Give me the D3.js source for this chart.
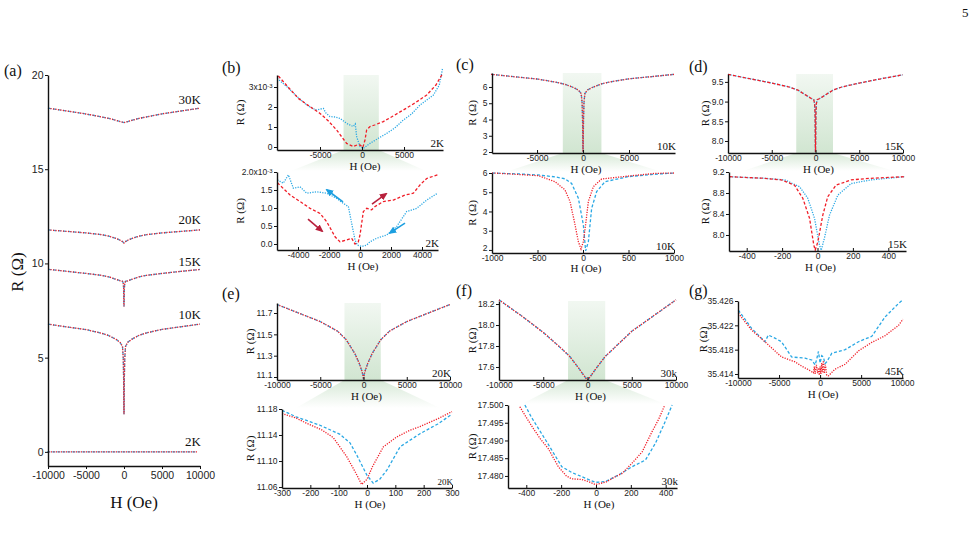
<!DOCTYPE html>
<html>
<head>
<meta charset="utf-8">
<script src="https://cdn.jsdelivr.net/npm/d3@7/dist/d3.min.js"></script>
<style>
  body { margin: 0; background: #fff; }
  svg { display: block; }
  .serif { font-family: "Liberation Serif", "Times New Roman", serif; fill: #111; }
</style>
</head>
<body>
<svg id="fig" width="978" height="539"></svg>
<script>
// ---- data (R in ohm, H in Oe) ----
var hWide = [-10000,-7500,-5000,-3000,-2000,-1000,-500,-200,-100,-50,-20,0,20,50,100,200,500,1000,2000,3000,5000,7500,10000];
var r30K = [18.24,18.09,17.93,17.78,17.70,17.59,17.53,17.495,17.485,17.480,17.478,17.478,17.478,17.480,17.485,17.495,17.53,17.59,17.70,17.78,17.94,18.09,18.24];
var r20K = [11.78,11.70,11.62,11.53,11.45,11.32,11.23,11.16,11.13,11.11,11.09,11.08,11.09,11.11,11.13,11.16,11.23,11.32,11.45,11.53,11.62,11.70,11.78];
var r15K = [9.69,9.58,9.47,9.37,9.29,9.15,9.08,9.05,8.95,8.70,7.90,7.72,7.95,8.70,8.95,9.05,9.08,9.15,9.29,9.37,9.47,9.58,9.68];
var r10K = [6.78,6.63,6.49,6.30,6.17,5.96,5.80,5.60,5.00,3.90,2.40,2.00,2.50,4.00,5.00,5.60,5.82,5.97,6.19,6.32,6.50,6.64,6.78];

// (b) 2K, R in 10^-3 ohm
var b1RedH = [-9960,-8800,-7580,-6300,-5000,-4000,-3020,-2400,-1830,-1040,-600,-240,100,355,550,950,1500,2540,3700,4920,6300,7700,8800,9600];
var b1RedR = [3.55,3.0,2.43,2.05,1.68,1.3,0.85,0.5,0.18,0.02,0.1,0.1,-0.02,0.35,0.85,1.02,1.1,1.27,1.55,1.85,2.2,2.6,3.1,3.68];
var b1BlueH = [-10100,-8960,-7800,-6580,-5500,-4600,-4300,-3820,-3200,-2620,-1830,-1040,-800,-640,-240,160,950,2000,2940,3900,4920,5900,6900,8500,9200,9600];
var b1BlueR = [3.43,3.02,2.55,2.1,1.85,1.93,1.7,1.52,1.5,1.43,1.18,1.02,1.15,0.52,0.02,-0.07,0.18,0.45,0.68,0.95,1.35,1.65,2.1,2.6,3.1,3.95];
var b2RedH = [-5330,-4510,-3870,-3220,-2580,-2150,-1610,-1290,-860,-540,-320,-110,0,215,430,750,970,1510,2150,2900,3440,3870,4300,5000];
var b2RedR = [1.70,1.36,1.18,0.99,0.85,0.62,0.20,0.06,0.11,0.16,0.0,0.06,0.25,0.90,0.99,0.95,1.04,1.18,1.22,1.36,1.41,1.64,1.82,1.92];
var b2BlueH = [-5330,-4950,-4620,-4300,-3870,-3440,-2800,-2150,-1510,-1080,-750,-540,-320,-170,110,430,640,1080,1720,2360,3010,3660,4300,5000];
var b2BlueR = [1.78,1.69,1.92,1.55,1.59,1.41,1.45,1.41,1.27,1.13,1.04,0.58,0.11,-0.03,-0.07,-0.03,0.06,0.16,0.25,0.48,0.90,0.99,1.22,1.41];
var b2ArrowH = [[-3355,-2450],[774,1677],[-1097,-2129],[2903,1935]];
var b2ArrowR = [[0.69,0.36],[1.11,1.39],[1.17,1.5],[0.58,0.31]];
var b2ArrowSweep = ["down","up","down","up"];

// (c) 10K low field
var c2RedH = [-1000,-800,-491,-308,-198,-143,-95,-51,-22,4,33,59,114,205,498,791,1000];
var c2RedR = [6.0,5.95,5.86,5.55,5.12,4.52,3.48,2.43,2.05,2.43,3.48,4.52,5.29,5.69,5.84,5.98,6.0];
var c2BlueH = [-1000,-700,-500,-308,-200,-125,-51,4,29,59,95,150,242,498,750,1000];
var c2BlueR = [6.0,5.95,5.9,5.8,5.7,5.46,4.69,3.30,1.95,2.43,4.16,5.03,5.55,5.81,5.92,6.0];

// (d) 15K low field
var d2RedH = [-496,-300,-205,-130,-83,-45,-21,-13,2,30,58,105,190,300,490];
var d2RedR = [9.11,9.08,9.05,8.95,8.70,8.32,7.81,7.71,7.87,8.38,8.73,8.95,9.05,9.08,9.11];
var d2BlueH = [-496,-300,-186,-101,-55,-17,11,21,39,68,115,190,302,490];
var d2BlueR = [9.11,9.08,9.05,8.92,8.70,8.32,7.81,7.71,7.94,8.38,8.76,8.98,9.05,9.11];

// (e) 20K low field
var e2RedH = [-300,-250,-213,-160,-119,-72,-40,-19,0,20,58,105,150,187,250,300];
var e2RedR = [11.173,11.166,11.158,11.148,11.136,11.107,11.082,11.064,11.072,11.092,11.122,11.137,11.147,11.153,11.165,11.176];
var e2BlueH = [-300,-250,-166,-95,-60,-36,0,22,45,70,117,187,250,300];
var e2BlueR = [11.178,11.168,11.155,11.141,11.128,11.109,11.078,11.066,11.072,11.086,11.122,11.142,11.157,11.172];

// (f) 30K low field
var f2RedH = [-437,-400,-360,-320,-274,-216,-170,-140,-82,-43,-4,54,112,150,207,265,322,360,395];
var f2RedR = [17.4995,17.4965,17.4934,17.4905,17.4877,17.4826,17.4800,17.4792,17.4790,17.4784,17.4776,17.4782,17.4798,17.4807,17.4836,17.4868,17.4925,17.4960,17.5];
var f2BlueH = [-408,-370,-331,-290,-254,-196,-140,-82,-4,54,131,207,284,341,390,437];
var f2BlueR = [17.5,17.4965,17.4934,17.4902,17.4873,17.4826,17.481,17.4798,17.4782,17.4784,17.4803,17.4826,17.4845,17.4892,17.4945,17.5];

// (g) 45K
var gRedH = [-9960,-8340,-6720,-4700,-3060,-2250,-1420,-810,-700,-600,-450,-300,-200,-100,0,100,200,300,400,500,650,800,1020,1830,3050,4680,6300,7930,9560,10100];
var gRedR = [35.4240,35.4212,35.4193,35.4168,35.4160,35.4153,35.4147,35.4142,35.4152,35.4140,35.4155,35.4141,35.4150,35.4138,35.4152,35.4140,35.4158,35.4143,35.4162,35.4141,35.4155,35.4138,35.4137,35.4148,35.4156,35.4178,35.4192,35.4203,35.4220,35.4230];
var gBlueH = [-9960,-8340,-6720,-6300,-5500,-4700,-3470,-1830,-1020,-600,-400,-200,0,200,400,600,810,1420,3050,4680,6300,7930,9560,10100];
var gBlueR = [35.4245,35.4215,35.4193,35.4204,35.4199,35.4193,35.4168,35.4166,35.4163,35.4155,35.4165,35.4177,35.4158,35.4170,35.4168,35.4157,35.4160,35.4174,35.4180,35.4193,35.4202,35.4234,35.4256,35.4262];

var tempsA = ["30K","20K","15K","10K","2K"];
var bandH = [-2200, 2000];

// ---- styles ----
var RED = "#f01e28", BLUE = "#2aa8e4";
var RED_ARROW = "#b8203c", BLUE_ARROW = "#1c9fe0";
var DOT = "1.2,1.3", DASH = "3,2";
var SANS = '"Liberation Sans", Arial, sans-serif';

var svg = d3.select("#fig");
var defs = svg.append("defs");

var bg = defs.append("linearGradient").attr("id", "band").attr("x1", 0).attr("y1", 0).attr("x2", 0).attr("y2", 1);
bg.append("stop").attr("offset", "0%").attr("stop-color", "#78b478").attr("stop-opacity", 0.1);
bg.append("stop").attr("offset", "100%").attr("stop-color", "#78b478").attr("stop-opacity", 0.34);
var fg = defs.append("linearGradient").attr("id", "fan").attr("x1", 0).attr("y1", 0).attr("x2", 0).attr("y2", 1);
fg.append("stop").attr("offset", "0%").attr("stop-color", "#78b478").attr("stop-opacity", 0.3);
fg.append("stop").attr("offset", "100%").attr("stop-color", "#78b478").attr("stop-opacity", 0);

[["redArrow", RED_ARROW], ["blueArrow", BLUE_ARROW]].forEach(function(m) {
  defs.append("marker").attr("id", m[0]).attr("markerUnits", "userSpaceOnUse")
    .attr("markerWidth", 8).attr("markerHeight", 7).attr("refX", 6).attr("refY", 3.5)
    .attr("orient", "auto")
    .append("path").attr("d", "M0,0 L8,3.5 L0,7 Z").attr("fill", m[1]);
});

var intFmt = function(d) { return String(d); };

function drawPanel(p) {
  var x = d3.scaleLinear().domain(p.xd).range(p.x);
  var y = d3.scaleLinear().domain(p.yd).range([p.y[1], p.y[0]]);
  var g = svg.append("g");
  var fs = p.fs || 8.5;

  if (p.band) {
    g.append("rect")
      .attr("x", x(bandH[0])).attr("width", x(bandH[1]) - x(bandH[0]))
      .attr("y", p.y[0]).attr("height", p.y[1] - p.y[0])
      .attr("fill", "url(#band)");
  }

  p.series.forEach(function(s) {
    g.append("path")
      .datum(d3.zip(s[0], s[1]))
      .attr("d", d3.line().x(function(d) { return x(d[0]); }).y(function(d) { return y(d[1]); }))
      .attr("fill", "none").attr("stroke", s[2]).attr("stroke-width", p.lw || 1.3)
      .attr("stroke-dasharray", s[3]);
  });

  var xg = g.append("g").attr("transform", "translate(0," + p.y[1] + ")")
    .call(d3.axisBottom(x).tickValues(p.xt).tickSizeInner(p.xTick || -3).tickSizeOuter(0)
      .tickPadding(p.xPad || 1.5).tickFormat(intFmt));
  var yg = g.append("g").attr("transform", "translate(" + p.x[0] + ",0)")
    .call(d3.axisLeft(y).tickValues(p.yt).tickSizeInner(3).tickSizeOuter(0)
      .tickPadding(1.5).tickFormat(p.yfmt || intFmt));
  [xg, yg].forEach(function(a) {
    a.attr("font-family", SANS).attr("font-size", fs);
    a.select(".domain").attr("stroke", "#111").attr("stroke-width", 1.4);
    a.selectAll(".tick line").attr("stroke", "#111").attr("stroke-width", 1);
    a.selectAll(".tick text").attr("fill", "#222");
  });
  if (p.yExp) {
    yg.selectAll(".tick text").filter(function(d) { return d === p.yExp.v; })
      .text(p.yExp.base)
      .append("tspan").attr("dy", "-0.45em").attr("font-size", fs * 0.7).text(p.yExp.sup);
  }
  // lift the lowest y label a touch where it would sit on the first x label
  if (p.liftLow) {
    yg.selectAll(".tick text").filter(function(d) { return d === p.yt[0]; })
      .attr("y", -2.5);
  }

  if (p.temp) {
    g.append("text").attr("class", "serif")
      .attr("x", p.x[1] + 1).attr("y", p.y[1] - 3)
      .attr("text-anchor", "end").attr("font-size", p.tempSize || 11).text(p.temp);
  }
  if (!p.noTitles) {
    g.append("text").attr("class", "serif")
      .attr("x", x(0) + 3).attr("y", p.y[1] + (p.hOff || 16) + 4)
      .attr("text-anchor", "middle").attr("font-size", 11).text("H (Oe)");
    g.append("text").attr("class", "serif")
      .attr("transform", "translate(" + p.rx + "," + ((p.y[0] + p.y[1]) / 2) + ") rotate(-90)")
      .attr("text-anchor", "middle").attr("dy", "0.35em").attr("font-size", 11).text("R (\u03a9)");
  }
  return {x: x, y: y, p: p, g: g};
}

// ---- panel (a) ----
var A = drawPanel({
  x: [48, 200], y: [75, 466], xd: [-10000, 10000], yd: [-0.75, 20],
  xt: [-10000, -5000, 0, 5000, 10000], yt: [0, 5, 10, 15, 20], fs: 10.5,
  xTick: 3, xPad: 3, noTitles: true, lw: 1.3,
  series: [
    [hWide, r30K, BLUE, DASH], [hWide, r30K, RED, DOT],
    [hWide, r20K, BLUE, DASH], [hWide, r20K, RED, DOT],
    [hWide, r15K, BLUE, DASH], [hWide, r15K, RED, DOT],
    [hWide, r10K, BLUE, DASH], [hWide, r10K, RED, DOT],
    [b1BlueH, b1BlueR.map(function(v) { return v / 1000; }), BLUE, DASH],
    [b1RedH, b1RedR.map(function(v) { return v / 1000; }), RED, DOT]
  ]
});
var tempAY = [104, 224, 266, 319, 446];
tempsA.forEach(function(t, i) {
  svg.append("text").attr("class", "serif").attr("x", 201).attr("y", tempAY[i])
    .attr("text-anchor", "end").attr("font-size", 13).text(t);
});
svg.append("text").attr("class", "serif").attr("x", 134).attr("y", 508)
  .attr("text-anchor", "middle").attr("font-size", 17).text("H (Oe)");
svg.append("text").attr("class", "serif")
  .attr("transform", "translate(17,272) rotate(-90)")
  .attr("text-anchor", "middle").attr("dy", "0.35em").attr("font-size", 17).text("R (\u03a9)");

// ---- sub panels ----
var f1 = d3.format(".1f"), f2 = d3.format(".2f"), f3 = d3.format(".3f");
var wideX = [-10000, -5000, 0, 5000, 10000];
var P = {};
P.b1 = {x: [277, 443], y: [75, 150], xd: [-10120, 9640], yd: [-0.15, 3.6], xt: [-5000, 0, 5000],
  yt: [0, 1, 2, 3], yExp: {v: 3, base: "3x10", sup: "-3"}, rx: 240, band: true, temp: "2K",
  series: [[b1BlueH, b1BlueR, BLUE, DOT], [b1RedH, b1RedR, RED, DASH]]};
P.b2 = {x: [277, 438], y: [172, 250], xd: [-5355, 5032], yd: [-0.167, 2.0], xt: [-4000, -2000, 0, 2000, 4000],
  yt: [0, 0.5, 1, 1.5, 2], yfmt: f1, yExp: {v: 2, base: "2.0x10", sup: "-3"}, rx: 240, temp: "2K",
  series: [[b2BlueH, b2BlueR, BLUE, DOT], [b2RedH, b2RedR, RED, DASH]]};
P.c1 = {x: [492, 675], y: [73, 153], xd: [-9900, 10000], yd: [1.94, 6.86], xt: [-5000, 0, 5000],
  yt: [2, 3, 4, 5, 6], rx: 472, band: true, temp: "10K",
  series: [[hWide, r10K, BLUE, DASH], [hWide, r10K, RED, DOT]]};
P.c2 = {x: [492, 674], y: [173, 253], xd: [-1000, 1000], yd: [1.84, 6.0], xt: [-1000, -500, 0, 500, 1000],
  yt: [2, 3, 4, 5, 6], rx: 472, temp: "10K", hOff: 15, liftLow: true,
  series: [[c2BlueH, c2BlueR, BLUE, DASH], [c2RedH, c2RedR, RED, DOT]]};
P.d1 = {x: [728, 903], y: [74, 153], xd: [-10000, 10000], yd: [7.695, 9.70], xt: wideX,
  yt: [8, 8.5, 9, 9.5], yfmt: f1, rx: 705, band: true, temp: "15K",
  series: [[hWide, r15K, BLUE, DOT], [hWide, r15K, RED, DASH]]};
P.d2 = {x: [729, 906], y: [172, 251], xd: [-500, 500], yd: [7.695, 9.2], xt: [-400, -200, 0, 200, 400],
  yt: [8, 8.4, 8.8, 9.2], yfmt: f1, rx: 705, temp: "15K",
  series: [[d2BlueH, d2BlueR, BLUE, DOT], [d2RedH, d2RedR, RED, DASH]]};
P.e1 = {x: [277, 450], y: [303, 380], xd: [-10000, 10000], yd: [11.072, 11.794], xt: wideX,
  yt: [11.1, 11.3, 11.5, 11.7], yfmt: f1, rx: 250, band: true, temp: "20K", liftLow: true,
  series: [[hWide, r20K, BLUE, DASH], [hWide, r20K, RED, DOT]]};
P.e2 = {x: [282, 452], y: [409, 488], xd: [-300, 300], yd: [11.0585, 11.18], xt: [-300, -200, -100, 0, 100, 200, 300],
  yt: [11.06, 11.10, 11.14, 11.18], yfmt: f2, rx: 250, temp: "20K", tempSize: 9,
  series: [[e2BlueH, e2BlueR, BLUE, DASH], [e2RedH, e2RedR, RED, DOT]]};
P.f1 = {x: [499, 676], y: [301, 380], xd: [-10000, 10000], yd: [17.476, 18.229], xt: wideX,
  yt: [17.6, 17.8, 18.0, 18.2], yfmt: f1, rx: 472, band: true, temp: "30k",
  series: [[hWide, r30K, BLUE, DASH], [hWide, r30K, RED, DOT]]};
P.f2 = {x: [508, 677], y: [405, 488], xd: [-505, 465], yd: [17.4766, 17.5], xt: [-400, -200, 0, 200, 400],
  yt: [17.48, 17.485, 17.49, 17.495, 17.5], yfmt: f3, rx: 472, temp: "30k",
  series: [[f2BlueH, f2BlueR, BLUE, DASH], [f2RedH, f2RedR, RED, DOT]]};
P.g = {x: [738, 903], y: [301, 378], xd: [-10000, 10100], yd: [35.41334, 35.426], xt: wideX,
  yt: [35.414, 35.418, 35.422, 35.426], yfmt: f3, rx: 703, temp: "45K",
  series: [[gBlueH, gBlueR, BLUE, DASH], [gRedH, gRedR, RED, DOT]]};

// zoom fans sit behind everything else
var fanLayer = svg.insert("g", ":first-child");
[["b1", "b2"], ["c1", "c2"], ["d1", "d2"], ["e1", "e2"], ["f1", "f2"]].forEach(function(pair) {
  var top = P[pair[0]], bot = P[pair[1]];
  var x = d3.scaleLinear().domain(top.xd).range(top.x);
  var y0 = top.y[1], y1 = bot.y[0] - 1;
  var pts = [[x(bandH[0]), y0], [x(bandH[1]), y0], [bot.x[1] - 12, y1], [bot.x[0] + 14, y1]];
  fanLayer.append("path").attr("d", "M" + pts.join("L") + "Z").attr("fill", "url(#fan)");
});

var drawn = {};
Object.keys(P).forEach(function(k) { drawn[k] = drawPanel(P[k]); });

// sweep arrows in (b) lower panel
var B2 = drawn.b2;
b2ArrowH.forEach(function(h, i) {
  var isRed = i < 2;
  B2.g.append("line")
    .attr("x1", B2.x(h[0])).attr("y1", B2.y(b2ArrowR[i][0]))
    .attr("x2", B2.x(h[1])).attr("y2", B2.y(b2ArrowR[i][1]))
    .attr("stroke", isRed ? RED_ARROW : BLUE_ARROW).attr("stroke-width", 1.6)
    .attr("marker-end", isRed ? "url(#redArrow)" : "url(#blueArrow)")
    .attr("data-sweep", b2ArrowSweep[i]);
});

// panel letters and page number
var letters = [["(a)", 4, 76], ["(b)", 222, 73], ["(c)", 456, 70], ["(d)", 689, 72],
               ["(e)", 222, 299], ["(f)", 456, 296], ["(g)", 689, 296]];
letters.forEach(function(l) {
  svg.append("text").attr("class", "serif").attr("x", l[1]).attr("y", l[2])
    .attr("font-size", 16).text(l[0]);
});
svg.append("text").attr("class", "serif").attr("x", 962).attr("y", 17)
  .attr("font-size", 13).text("5");
</script>
</body>
</html>
